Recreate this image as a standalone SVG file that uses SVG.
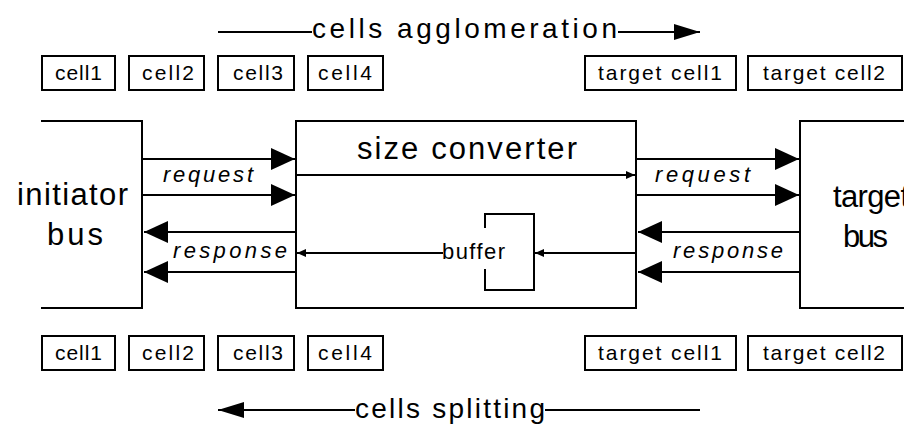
<svg xmlns="http://www.w3.org/2000/svg" width="917" height="426" viewBox="0 0 917 426">
<style>
.box{fill:#fff;stroke:#000;stroke-width:2}
.ln{fill:none;stroke:#000;stroke-width:2}
text{font-family:"Liberation Sans",Arial,sans-serif;fill:#000}
.big{font-size:31px}
.hdr{font-size:28px}
.cell{font-size:21px}
.lbl{font-size:22px;font-style:italic}
.buf{font-size:22px}
</style>
<defs>
<marker id="head" markerUnits="userSpaceOnUse" markerWidth="24" markerHeight="22" refX="24" refY="11" orient="auto">
<path d="M0,0 L24,11 L0,22 Z" fill="#000"/>
</marker>
<marker id="mid" markerUnits="userSpaceOnUse" markerWidth="26" markerHeight="16" refX="26" refY="8" orient="auto">
<path d="M0,0 L26,8 L0,16 Z" fill="#000"/>
</marker>
<marker id="small" markerUnits="userSpaceOnUse" markerWidth="9" markerHeight="8" refX="9" refY="4" orient="auto">
<path d="M0,0 L9,4 L0,8 Z" fill="#000"/>
</marker>
<clipPath id="imgclip"><rect x="0" y="0" width="904" height="426"/></clipPath>
</defs>
<rect x="0" y="0" width="917" height="426" fill="#fff"/>

<g id="title-agglomeration">
<text class="hdr" x="312" y="38" textLength="305" lengthAdjust="spacing">cells agglomeration</text>
</g>
<g id="title-splitting">
<text class="hdr" x="355" y="418" textLength="190" lengthAdjust="spacing">cells splitting</text>
</g>

<g id="cells-top">
<g id="cell1-top"><rect class="box" x="42" y="56" width="73" height="34"/><text class="cell" x="55" y="80" textLength="47">cell1</text></g>
<g id="cell2-top"><rect class="box" x="129" y="56" width="75" height="34"/><text class="cell" x="142" y="80" textLength="52">cell2</text></g>
<g id="cell3-top"><rect class="box" x="218" y="56" width="76" height="34"/><text class="cell" x="233" y="80" textLength="50">cell3</text></g>
<g id="cell4-top"><rect class="box" x="308" y="56" width="75" height="34"/><text class="cell" x="318" y="80" textLength="54">cell4</text></g>
<g id="target-cell1-top"><rect class="box" x="585" y="56" width="151" height="34"/><text class="cell" x="598" y="80" textLength="124">target cell1</text></g>
<g id="target-cell2-top"><rect class="box" x="748" y="56" width="154" height="34"/><text class="cell" x="763" y="80" textLength="122">target cell2</text></g>
</g>

<g id="cells-bottom">
<g id="cell1-bottom"><rect class="box" x="42" y="336" width="73" height="34"/><text class="cell" x="55" y="360" textLength="47">cell1</text></g>
<g id="cell2-bottom"><rect class="box" x="129" y="336" width="75" height="34"/><text class="cell" x="142" y="360" textLength="52">cell2</text></g>
<g id="cell3-bottom"><rect class="box" x="218" y="336" width="76" height="34"/><text class="cell" x="233" y="360" textLength="50">cell3</text></g>
<g id="cell4-bottom"><rect class="box" x="308" y="336" width="75" height="34"/><text class="cell" x="318" y="360" textLength="54">cell4</text></g>
<g id="target-cell1-bottom"><rect class="box" x="585" y="336" width="151" height="34"/><text class="cell" x="598" y="360" textLength="124">target cell1</text></g>
<g id="target-cell2-bottom"><rect class="box" x="748" y="336" width="154" height="34"/><text class="cell" x="763" y="360" textLength="122">target cell2</text></g>
</g>

<g id="initiator-bus">
<path class="ln" d="M41,121 H142 V308 H41"/>
<text class="big" x="17" y="205" textLength="111" lengthAdjust="spacing">initiator</text>
<text class="big" x="47" y="245" textLength="56" lengthAdjust="spacing">bus</text>
</g>

<g id="size-converter">
<rect class="box" x="296" y="121" width="340" height="187"/>
<text class="big" x="357" y="159" textLength="220" lengthAdjust="spacing">size converter</text>
</g>

<g id="buffer">
<path class="ln" d="M485,228 V214 H534 V290 H485 V269"/>
<text class="buf" x="442" y="259" textLength="63" lengthAdjust="spacing">buffer</text>
</g>

<g id="target-bus" clip-path="url(#imgclip)">
<path class="ln" d="M906,121 H800 V308 H906"/>
<text class="big" x="833" y="207" textLength="76" lengthAdjust="spacing">target</text>
<text class="big" x="843" y="247" textLength="45" lengthAdjust="spacing">bus</text>
</g>

<g id="connectors">
<path class="ln" d="M218,32 H312"/>
<path class="ln" d="M618,32 H700" marker-end="url(#mid)"/>
<path class="ln" d="M355,410 H218" marker-end="url(#mid)"/>
<path class="ln" d="M545,410 H700"/>

<path class="ln" d="M143,159 H295" marker-end="url(#head)"/>
<path class="ln" d="M143,195 H295" marker-end="url(#head)"/>
<path class="ln" d="M295,232 H144" marker-end="url(#head)"/>
<path class="ln" d="M295,272 H144" marker-end="url(#head)"/>

<path class="ln" d="M637,159 H799" marker-end="url(#head)"/>
<path class="ln" d="M637,195 H799" marker-end="url(#head)"/>
<path class="ln" d="M799,232 H638" marker-end="url(#head)"/>
<path class="ln" d="M799,272 H638" marker-end="url(#head)"/>

<path class="ln" d="M297,175 H635" marker-end="url(#small)"/>
<path class="ln" d="M635,253 H535" marker-end="url(#small)"/>
<path class="ln" d="M443,253 H297" marker-end="url(#small)"/>

<text class="lbl" x="163" y="182" textLength="90" lengthAdjust="spacing">request</text>
<text class="lbl" x="173" y="258" textLength="114" lengthAdjust="spacing">response</text>
<text class="lbl" x="655" y="182" textLength="95" lengthAdjust="spacing">request</text>
<text class="lbl" x="673" y="258" textLength="110" lengthAdjust="spacing">response</text>
</g>
</svg>
